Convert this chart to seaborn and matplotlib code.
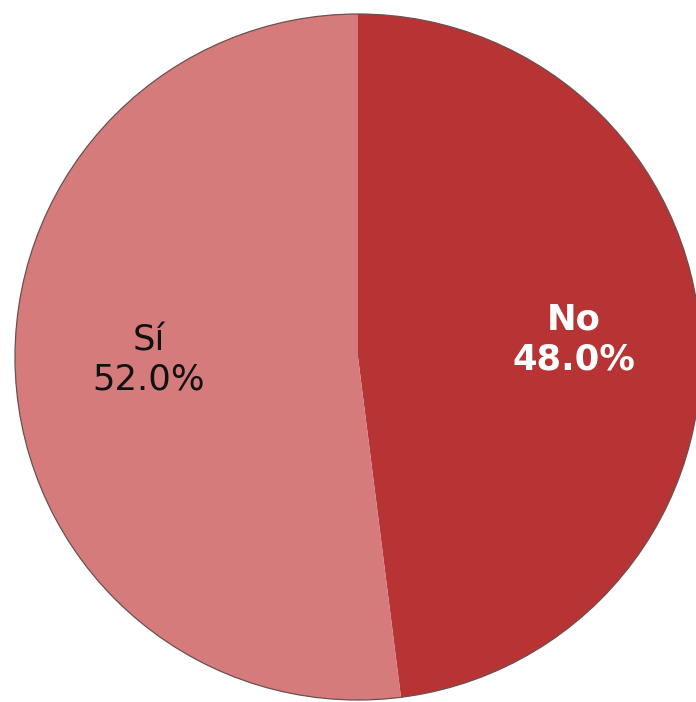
import numpy as np
import matplotlib
matplotlib.use("Agg")
import matplotlib.pyplot as plt
import seaborn as sns
from matplotlib.patches import Circle

categories = ["No", "Sí"]
values = [48.0, 52.0]
colors = ["#B83333", "#D57B7C"]

sns.set_theme(style="white")
plt.rcParams['font.family'] = ['DejaVu Sans']

W, H, DPI = 696, 702, 100
fig = plt.figure(figsize=(W / DPI, H / DPI), dpi=DPI)
ax = fig.add_axes([0, 0, 1, 1])
ax.set_axis_off()

cx_px, cy_px, r_px = 358, 357, 343
ax.set_xlim(-cx_px / r_px, (W - cx_px) / r_px)
ax.set_ylim(-(H - cy_px) / r_px, cy_px / r_px)
ax.set_aspect('equal', adjustable='box')

wedges, _ = ax.pie(values, colors=colors, startangle=90, counterclock=False,
                   radius=1.0, center=(0, 0),
                   wedgeprops=dict(edgecolor='none', linewidth=0))
ax.add_patch(Circle((0, 0), 1.0, fill=False, edgecolor='#6b5050', linewidth=0.9))
ax.set_xlim(-cx_px / r_px, (W - cx_px) / r_px)
ax.set_ylim(-(H - cy_px) / r_px, cy_px / r_px)

label_cfg = [
    dict(color='white', weight='bold', dist=0.63, dang=1.0),
    dict(color='#111111', weight='normal', dist=0.61, dang=-2.8),
]
for w, cat, val, cfg in zip(wedges, categories, values, label_cfg):
    ang = np.deg2rad((w.theta1 + w.theta2) / 2 + cfg['dang'])
    x, y = cfg['dist'] * np.cos(ang), cfg['dist'] * np.sin(ang)
    ax.text(x, y, f"{cat}\n{val:.1f}%", ha='center', va='center',
            fontsize=25.5, color=cfg['color'], fontweight=cfg['weight'],
            linespacing=1.2)

fig.savefig("out.png", dpi=DPI)
